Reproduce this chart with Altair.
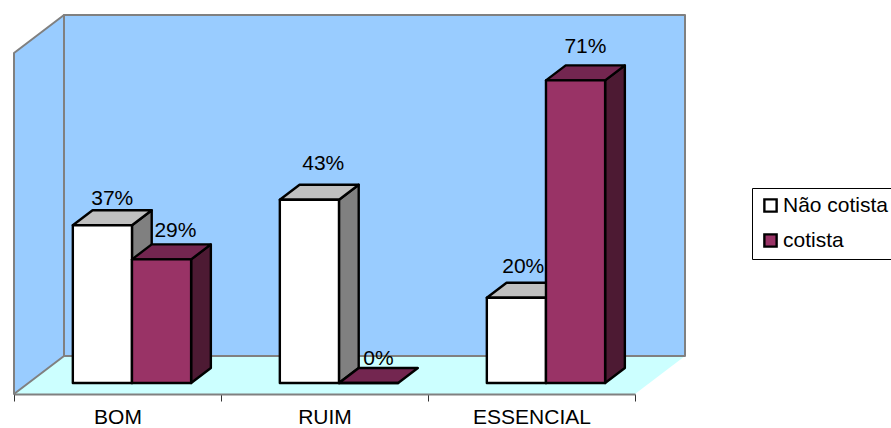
import json
import altair as alt
import pandas as pd

# Chart values
categories = ["BOM", "RUIM", "ESSENCIAL"]
series = ["Não cotista", "cotista"]
nao_cotista = [37, 43, 20]
cotista = [29, 0, 71]
axis_max = 80

# Colours: front, top and side face of each series
WHITE = ("#FFFFFF", "#C0C0C0", "#808080")
PURPLE = ("#993366", "#732650", "#4D1A33")
WALL, FLOOR, EDGE = "#99CCFF", "#CCFFFF", "#808080"
FONT, FONT_SIZE = "Liberation Sans", 21
BAR_STROKE = 2.4

# Oblique projection: floor depth in category widths and in percentage points
CAT_PX, PCT_PX = 207, 341 / axis_max
DEPTH_X, DEPTH_Y = 50 / CAT_PX, 38 / PCT_PX
BAR_W = 1 / 3.5
GAP = 0.75 / 3.5
NEAR, FAR = 11 / 38, 26 / 38  # bar's front and back plane within the floor depth


def project(x, y, depth):
    return x + depth * DEPTH_X, y + depth * DEPTH_Y


x_scale = alt.Scale(domain=[0, 3], range=[0, 3 * CAT_PX], nice=False, zero=False)
y_scale = alt.Scale(domain=[0, 394 / PCT_PX], nice=False, zero=False)
label_expr = f"datum.value % 1 == 0.5 ? {json.dumps(categories)}[floor(datum.value)] : ''"
x_axis = alt.Axis(
    values=[0, 0.5, 1, 1.5, 2, 2.5, 3],
    labelExpr=label_expr,
    title=None,
    grid=False,
    domainColor=EDGE,
    domainWidth=2,
    tickColor="#333333",
    tickSize=7,
    tickWidth=1,
    tickOpacity=alt.expr("datum.value % 1 == 0 ? 1 : 0"),
    labelFont=FONT,
    labelFontSize=FONT_SIZE,
    labelColor="black",
    labelPadding=5,
    labelAngle=0,
    labelOverlap=False,
    zindex=1,
)
X = alt.X("x:Q", scale=x_scale, axis=x_axis)
Y = alt.Y("y:Q", scale=y_scale, axis=None)


def vertical_area(rows, fill, stroke, width=2):
    """Quadrilateral with two vertical edges."""
    return alt.Chart(pd.DataFrame(rows)).mark_area(
        fill=fill, stroke=stroke, strokeWidth=width, strokeJoin="round", opacity=1
    ).encode(x=X, y=Y, y2=alt.Y2("y2:Q"), detail="id:N")


def horizontal_area(rows, fill, stroke, width=2):
    """Quadrilateral with two horizontal edges."""
    enc = dict(x=X, x2=alt.X2("x2:Q"), y=Y, detail="id:N")
    if stroke:
        return alt.Chart(pd.DataFrame(rows)).mark_area(
            orient="horizontal", fill=fill, stroke=stroke, strokeWidth=width,
            strokeJoin="round", opacity=1
        ).encode(**enc)
    return alt.Chart(pd.DataFrame(rows)).mark_area(
        orient="horizontal", fill=fill, opacity=1
    ).encode(**enc)


# Room: floor, side wall and back wall
floor = horizontal_area(
    [
        {"id": 0, "x": 0, "x2": 3, "y": 0},
        {"id": 0, "x": DEPTH_X, "x2": 3 + DEPTH_X, "y": DEPTH_Y},
    ],
    FLOOR,
    None,
)
side_wall = vertical_area(
    [
        {"id": 0, "x": 0, "y": 0, "y2": axis_max},
        {"id": 0, "x": DEPTH_X, "y": DEPTH_Y, "y2": axis_max + DEPTH_Y},
    ],
    WALL,
    EDGE,
)
back_wall = vertical_area(
    [
        {"id": 0, "x": DEPTH_X, "y": DEPTH_Y, "y2": axis_max + DEPTH_Y},
        {"id": 0, "x": 3 + DEPTH_X, "y": DEPTH_Y, "y2": axis_max + DEPTH_Y},
    ],
    WALL,
    EDGE,
)


def bar_layers(values, slot, name, colours):
    front_rows, top_rows, side_rows = [], [], []
    for i, v in enumerate(values):
        left = i + GAP + slot * BAR_W
        right = left + BAR_W
        x0, y0 = project(left, 0, NEAR)
        x1, y1 = project(right, v, NEAR)
        xb0, yb0 = project(left, 0, FAR)
        xb1, yb1 = project(right, v, FAR)
        front_rows.append({"x": x0, "x2": x1, "y": y0, "y2": y1, "serie": name})
        top_rows += [
            {"id": i, "x": x0, "x2": x1, "y": y1},
            {"id": i, "x": xb0, "x2": xb1, "y": yb1},
        ]
        if v > 0:
            side_rows += [
                {"id": i, "x": x1, "y": y0, "y2": y1},
                {"id": i, "x": xb1, "y": yb0, "y2": yb1},
            ]
    side = vertical_area(side_rows, colours[2], "black", BAR_STROKE)
    top = horizontal_area(top_rows, colours[1], "black", BAR_STROKE)
    front = alt.Chart(pd.DataFrame(front_rows)).mark_rect(
        stroke="black", strokeWidth=BAR_STROKE, strokeJoin="round", opacity=1
    ).encode(
        x=X,
        x2=alt.X2("x2:Q"),
        y=Y,
        y2=alt.Y2("y2:Q"),
        color=alt.Color(
            "serie:N",
            scale=alt.Scale(domain=series, range=[WHITE[0], PURPLE[0]]),
            legend=alt.Legend(
                title=None,
                orient="none",
                legendX=738,
                legendY=188,
                strokeColor="black",
                fillColor="white",
                padding=7,
                symbolType="square",
                symbolSize=150,
                symbolOffset=1,
                symbolStrokeColor="black",
                symbolStrokeWidth=2.4,
                symbolOpacity=1,
                labelFont=FONT,
                labelFontSize=FONT_SIZE,
                labelColor="black",
                labelOffset=2,
                rowPadding=12,
                labelLimit=200,
            ),
        ),
    )
    return [side, top, front]


# Value labels stand above the middle of each bar's top face; the pixel nudges
# keep them clear of the neighbouring bar.
nudges = {
    (0, 0): (0, -5), (0, 1): (4, -3), (1, 0): (4, 5), (1, 1): (0, -7),
    (2, 0): (-3, 0), (2, 1): (0, 2),
}
label_rows = []
for slot, values in enumerate([nao_cotista, cotista]):
    for i, v in enumerate(values):
        cx = i + GAP + (slot + 0.5) * BAR_W
        x, _ = project(cx, v, (NEAR + FAR) / 2)
        _, y = project(cx, v, FAR)
        nx, ny = nudges[(i, slot)]
        label_rows.append(
            {"x": x + nx / CAT_PX, "y": y + (10 + ny) / PCT_PX, "text": f"{v}%"}
        )
labels = alt.Chart(pd.DataFrame(label_rows)).mark_text(
    font=FONT, fontSize=FONT_SIZE, color="black", baseline="alphabetic", align="center"
).encode(x=X, y=Y, text="text:N")

chart = (
    alt.layer(
        floor,
        side_wall,
        back_wall,
        *bar_layers(nao_cotista, 0, series[0], WHITE),
        *bar_layers(cotista, 1, series[1], PURPLE),
        labels,
    )
    .properties(
        width=877,
        height=394,
        padding={"left": 14, "top": 0, "right": 0, "bottom": 34},
        autosize=alt.AutoSizeParams(type="none"),
        background="white",
    )
    .configure_view(stroke=None)
)

chart.save("out.html", embed_options={"renderer": "svg", "actions": False})
